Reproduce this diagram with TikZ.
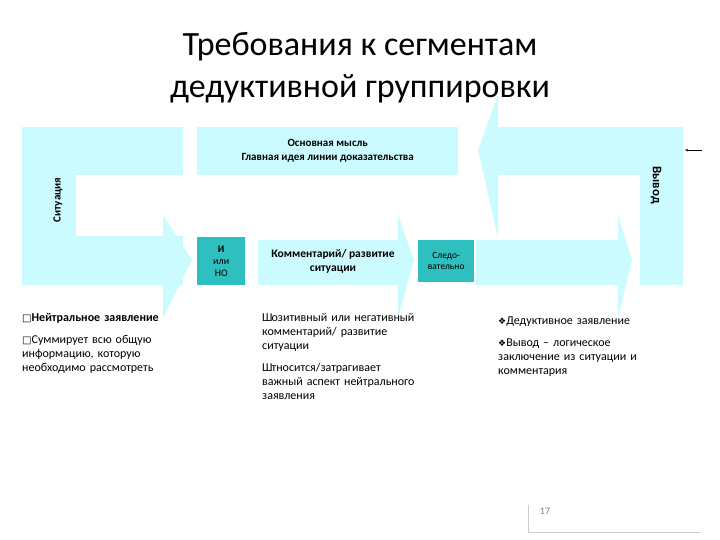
\documentclass[tikz,border=0pt]{standalone}
\usepackage{fontspec}
\setmainfont{Carlito}
\newfontfamily\dv{DejaVu Sans}
\definecolor{lc}{HTML}{CCFBFF}
\definecolor{tc}{HTML}{2FBFBF}
\begin{document}
\begin{tikzpicture}[x=1pt,y=-1pt,
  band/.style={fill=lc,draw=none},
  tbox/.style={fill=tc,draw=none},
  lbl/.style={font=\fontsize{11}{12}\selectfont\bfseries,align=center,inner sep=0},
  bul/.style={font=\fontsize{12}{14}\selectfont,align=left,anchor=north west,text width=160pt,inner sep=0}]
\useasboundingbox (0,0) rectangle (720,540);
% arrowheads (behind)
\fill[lc] (163,215) -- (192,260) -- (163,318) -- cycle;
\fill[lc] (398,215) -- (414,260) -- (398,318) -- cycle;
\fill[lc] (618,215) -- (632,260) -- (618,318) -- cycle;
\fill[lc] (498,95) -- (478,150) -- (498,238) -- cycle;
% bands
\fill[band] (22,127) rectangle (183,175);
\fill[band] (22,127) rectangle (76,285);
\fill[band] (22,236) rectangle (183,285);
\fill[band] (258,240) rectangle (400,285);
\fill[band] (476,240) rectangle (620,285);
\fill[band] (498,127) rectangle (683,175);
\fill[band] (640,127) rectangle (683,285);
\node[band,minimum width=261pt,minimum height=48pt,anchor=north west] (main) at (197,127) {};
\node[lbl,font=\fontsize{11}{14}\selectfont\bfseries] at (main.center) {Основная мысль\\Главная идея линии доказательства};
\node[tbox,minimum width=48pt,minimum height=48pt,anchor=north west] (i) at (197,237) {};
\node[lbl,font=\fontsize{10}{12}\selectfont\bfseries] at (i.center) {И\\\mdseries или\\\mdseries НО};
\node[tbox,minimum width=56pt,minimum height=42pt,anchor=north west] (s) at (418,240) {};
\node[lbl,font=\fontsize{9.5}{11}\selectfont] at (s.center) {Следо-\\вательно};
\node[lbl,font=\fontsize{11.5}{14}\selectfont\bfseries] (k) at (333,261) {Комментарий/ развитие\\ситуации};
\node[lbl,rotate=90,font=\fontsize{11}{12}\selectfont\bfseries] (sit) at (58,200) {Ситуация};
\node[lbl,rotate=-90,font=\fontsize{13}{14}\selectfont\bfseries] (v) at (656,185) {Вывод};
\coordinate (ae) at (685,150);
\coordinate (as) at (702,150);
\draw[-stealth,thin] (as) -- (ae);
\node[font=\fontsize{34}{42}\selectfont,align=center] (t) at (360,68) {Требования к сегментам\\дедуктивной группировки};
\node[bul] (b1) at (22,313) {{\dv\fontsize{10}{10}\selectfont□}\textbf{Нейтральное заявление}\par\vspace{8pt}{\dv\fontsize{10}{10}\selectfont□}Суммирует всю общую информацию, которую необходимо рассмотреть};
\node[bul,text width=185pt] (b2) at (262,313) {Ш\kern-1pt озитивный или негативный\\комментарий/ развитие\\ситуации\par\vspace{8pt}Ш\kern-1pt тносится/затрагивает\\важный аспект нейтрального\\заявления};
\node[bul,text width=190pt] (b3) at (498,317) {{\dv\fontsize{9}{10}\selectfont❖}Дедуктивное заявление\par\vspace{8pt}{\dv\fontsize{9}{10}\selectfont❖}Вывод – логическое\\заключение из ситуации и\\комментария};
\draw[gray!40] (528,505) -- (528,532) (528,532) -- (700,532);
\node[font=\fontsize{10}{10}\selectfont,text=gray] (p) at (545,511) {17};
\end{tikzpicture}
\end{document}
